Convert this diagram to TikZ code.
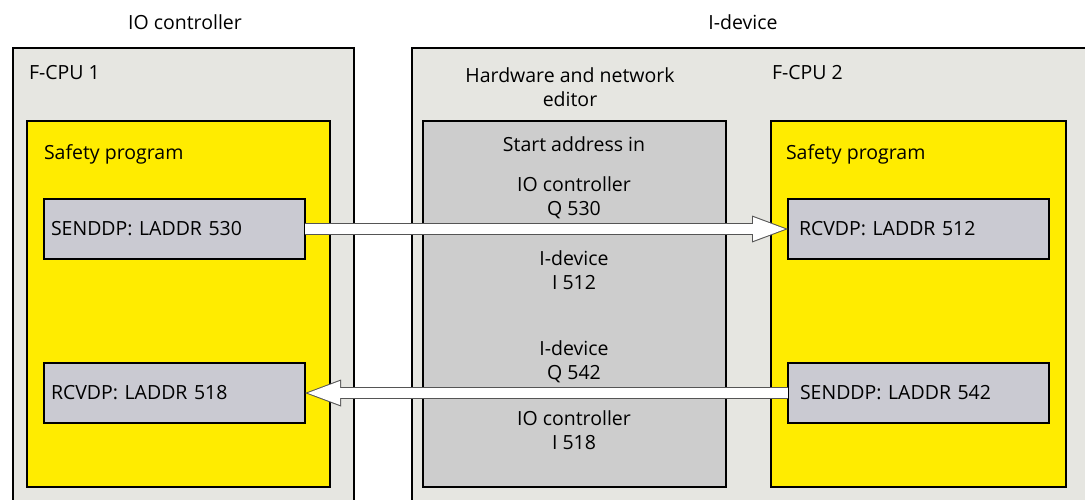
\documentclass[tikz,border=0pt]{standalone}
\usepackage{fontspec}
\setmainfont{Open Sans}
\usetikzlibrary{arrows.meta, positioning}
\definecolor{cpugray}{HTML}{E6E6E1}
\definecolor{progyellow}{HTML}{FFEC00}
\definecolor{blockgray}{HTML}{CACAD2}
\definecolor{hwgray}{HTML}{CDCDCD}
\definecolor{flowgray}{HTML}{555555}

\begin{document}
\begin{tikzpicture}[
  x=1pt, y=-1pt,
  node distance=10pt,
  every node/.style={font=\fontsize{19.5}{24}\selectfont, inner sep=0pt, outer sep=0pt},
  cpubox/.style={rectangle, draw=black, line width=1.2pt, fill=cpugray, anchor=north west, minimum height=470pt},
  progbox/.style={rectangle, draw=black, line width=1.5pt, fill=progyellow, anchor=north west, minimum height=366pt},
  hwbox/.style={rectangle, draw=black, line width=1.3pt, fill=hwgray, anchor=north west, minimum width=303pt, minimum height=366pt},
  block/.style={rectangle, draw=black, line width=1.2pt, fill=blockgray, anchor=north west, minimum width=261pt, minimum height=60pt, text width=247pt, inner xsep=7pt, align=left},
  addr/.style={align=center},
  flowout/.style={line width=11.5pt, flowgray, -{Triangle[length=36pt, width=27pt, line width=0pt]}},
  flowin/.style={line width=9.5pt, white, shorten >=2.8pt, -{Triangle[length=32.2pt, width=24pt, line width=0pt]}},
]
\useasboundingbox (0,0) rectangle (1085,500);
\clip (0,0) rectangle (1085,500);

% headings
\node (ioctrl) at (185,22) {IO controller};
\node (idev) at (743,22) {I-device};

% the two CPUs
\node[cpubox, minimum width=341pt] (cpu1) at (13,48) {};
\node[cpubox, minimum width=690pt] (cpu2) at (412,48) {};
\node[anchor=west] (cpu1lbl) at (29,73) {F-CPU 1};
\node[anchor=west] (cpu2lbl) at (772,73) {F-CPU 2};

% safety programs
\node[progbox, minimum width=303pt] (prog1) at (27,121) {};
\node[progbox, minimum width=295pt] (prog2) at (771,121) {};
\node[anchor=west] (prog1lbl) at (44,154) {Safety program};
\node[anchor=west] (prog2lbl) at (786,154) {Safety program};

\node[block] (send1) at (44,199) {SENDDP: LADDR 530};
\node[block] (recv1) at (44,363) {RCVDP: LADDR 518};
\node[block, inner xsep=11pt, text width=239pt] (recv2) at (788,199) {RCVDP: LADDR 512};
\node[block, inner xsep=12pt, text width=237pt] (send2) at (788,363) {SENDDP: LADDR 542};

% hardware and network editor
\node[addr] (hwlbl) at (570,87) {Hardware and network\\editor};
\node[hwbox] (hw) at (423,121) {};
\node (start) at (574,144) {Start address in};
\node[addr] (q530) at (574,198) {IO controller\\Q 530};
\node[addr] (i512) at (574,270) {I-device\\I 512};
\node[addr] (q542) at (574,362) {I-device\\Q 542};
\node[addr] (i518) at (574,430) {IO controller\\I 518};

% data flow
\draw[flowout] (send1.east) -- (recv2.west);
\draw[flowin] (send1.east) -- (recv2.west);
\draw[flowout] (send2.west) -- (recv1.east);
\draw[flowin] (send2.west) -- (recv1.east);

\end{tikzpicture}
\end{document}
